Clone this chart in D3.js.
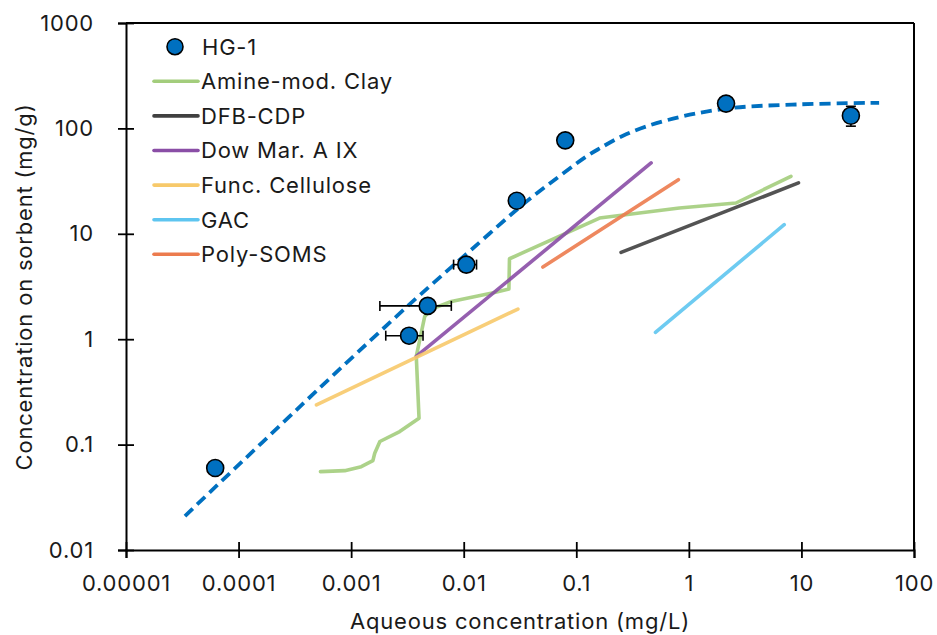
<!DOCTYPE html>
<html><head><meta charset="utf-8">
<script src="https://cdn.jsdelivr.net/npm/d3@7"></script>
<style>
body{margin:0;background:#fff;}
text{font-family:Inter,"Open Sans",sans-serif;fill:#1a1a1a;letter-spacing:0.8px;}
</style></head>
<body><svg id="c" width="937" height="635"></svg>
<script>
// ---- data ----
const xTickValues = [1e-5,1e-4,1e-3,1e-2,1e-1,1,10,100];
const xTickLabels = ["0.00001","0.0001","0.001","0.01","0.1","1","10","100"];
const yTickValues = [0.01,0.1,1,10,100,1000];
const yTickLabels = ["0.01","0.1","1","10","100","1000"];

// HG-1 measured points
const hgX = [6.2e-5, 0.00327, 0.00479, 0.01055, 0.0296, 0.0798, 2.14, 27.5];
const hgY = [0.060, 1.08, 2.07, 5.1, 20.6, 77, 172, 132];
const hgXErrLo = [null, 0.00203, 0.00180, 0.00813, 0.0272, null, null, null];
const hgXErrHi = [null, 0.00435, 0.00776, 0.01300, 0.0318, null, null, null];
const hgYErrLo = [null, null, null, null, null, null, null, 105];
const hgYErrHi = [null, null, null, null, null, null, null, 162];

// HG-1 fitted curve
const fitX = [3.34e-5, 5.26e-4, 0.00367, 0.01167, 0.0347, 0.0471, 0.1225, 0.161, 0.277, 0.628, 2.14, 9.57, 49.0];
const fitY = [0.021, 0.345, 2.37, 7.06, 19.6, 25.3, 54, 64.5, 88, 119, 154, 169, 175];

// comparison sorbents
const clayX = [5.34e-4, 8.77e-4, 1.23e-3, 1.56e-3, 1.62e-3, 1.80e-3, 2.70e-3, 4.01e-3, 3.79e-3, 4.50e-3, 5.15e-3, 7.76e-3, 0.0188, 0.0252, 0.0255, 0.161, 0.824, 2.62, 8.07];
const clayY = [0.0554, 0.0566, 0.0618, 0.0705, 0.0828, 0.107, 0.133, 0.178, 0.686, 1.64, 1.93, 2.28, 2.78, 2.99, 5.8, 14.1, 17.6, 19.6, 35.1];
const dfbX = [0.250, 9.42];
const dfbY = [6.66, 30.4];
const dowX = [3.79e-3, 0.462];
const dowY = [0.686, 47];
const celX = [4.92e-4, 0.0303];
const celY = [0.238, 1.93];
const gacX = [0.505, 7.03];
const gacY = [1.16, 12.2];
const somsX = [0.0505, 0.807];
const somsY = [4.84, 32.6];

const seriesNames = ["Amine-mod. Clay","DFB-CDP","Dow Mar. A IX","Func. Cellulose","GAC","Poly-SOMS"];
const seriesColors = ["#a3cd7c","#404040","#8a4ea6","#f7c96a","#5ec5f0","#ec7b4e"];
const seriesX = [clayX, dfbX, dowX, celX, gacX, somsX];
const seriesY = [clayY, dfbY, dowY, celY, gacY, somsY];

// ---- chart ----
const svg = d3.select("#c");
const L=126, R=914, T=23, B=550;
const x = d3.scaleLog().domain([1e-5,100]).range([L,R]);
const y = d3.scaleLog().domain([0.01,1000]).range([B,T]);
const FS = 22;

const xAxis = svg.append("g").attr("transform",`translate(0,${B})`)
  .call(d3.axisBottom(x).tickValues(xTickValues).tickFormat((d,i)=>xTickLabels[i]).tickSizeOuter(0).tickSize(8).tickPadding(14));
const yAxis = svg.append("g").attr("transform",`translate(${L},0)`)
  .call(d3.axisLeft(y).tickValues(yTickValues).tickFormat((d,i)=>yTickLabels[i]).tickSizeOuter(0).tickSize(8).tickPadding(24));
[xAxis,yAxis].forEach(g=>{
  g.select(".domain").attr("stroke","#000").attr("stroke-width",2);
  g.selectAll(".tick line").attr("stroke","#000").attr("stroke-width",1.8);
  g.selectAll(".tick text").attr("font-size",FS).attr("font-family","Inter, 'Open Sans', sans-serif").attr("fill","#1a1a1a");
});
xAxis.selectAll(".tick line").attr("y1",-8).attr("y2",8);
xAxis.selectAll(".tick text").attr("dy","0.85em");
yAxis.selectAll(".tick line").attr("x1",-8).attr("x2",8);
svg.append("line").attr("x1",L).attr("x2",R).attr("y1",T).attr("y2",T).attr("stroke","#000").attr("stroke-width",2);
svg.append("line").attr("x1",R).attr("x2",R).attr("y1",T).attr("y2",B).attr("stroke","#000").attr("stroke-width",2);

svg.append("text").attr("x",520).attr("y",629).attr("text-anchor","middle").attr("font-size",FS)
  .text("Aqueous concentration (mg/L)");
svg.append("text").attr("transform","translate(32,287) rotate(-90)").attr("text-anchor","middle").attr("font-size",FS)
  .text("Concentration on sorbent (mg/g)");

const line = d3.line().x(d=>x(d[0])).y(d=>y(d[1]));
seriesNames.forEach((n,i)=>{
  const pts = seriesX[i].map((v,j)=>[v, seriesY[i][j]]);
  svg.append("path").attr("d",line(pts)).attr("fill","none")
    .attr("stroke",seriesColors[i]).attr("stroke-width",3.6).attr("stroke-linecap","round").attr("stroke-linejoin","round")
    .attr("stroke-opacity",0.9);
});

const fitPts = fitX.map((v,j)=>[v, fitY[j]]);
svg.append("path").attr("d",d3.line().x(d=>x(d[0])).y(d=>y(d[1])).curve(d3.curveCatmullRom.alpha(0.5))(fitPts))
  .attr("fill","none").attr("stroke","#0070c0").attr("stroke-width",3.8).attr("stroke-dasharray","11,6");

const eb = svg.append("g").attr("stroke","#000").attr("stroke-width",1.6);
hgX.forEach((cx,i)=>{
  const cy = hgY[i];
  if(hgXErrLo[i]!=null){
    eb.append("line").attr("x1",x(hgXErrLo[i])).attr("x2",x(hgXErrHi[i])).attr("y1",y(cy)).attr("y2",y(cy));
    [hgXErrLo[i],hgXErrHi[i]].forEach(v=>eb.append("line").attr("x1",x(v)).attr("x2",x(v)).attr("y1",y(cy)-5).attr("y2",y(cy)+5));
  }
  if(hgYErrLo[i]!=null){
    eb.append("line").attr("x1",x(cx)).attr("x2",x(cx)).attr("y1",y(hgYErrLo[i])).attr("y2",y(hgYErrHi[i]));
    [hgYErrLo[i],hgYErrHi[i]].forEach(v=>eb.append("line").attr("x1",x(cx)-5).attr("x2",x(cx)+5).attr("y1",y(v)).attr("y2",y(v)));
  }
});
svg.append("g").selectAll("circle").data(hgX).join("circle")
  .attr("cx",d=>x(d)).attr("cy",(d,i)=>y(hgY[i])).attr("r",8.5)
  .attr("fill","#0070c0").attr("stroke","#000").attr("stroke-width",1.6);

const lg = svg.append("g");
const ly0 = 46.7, ldy = 34.6;
lg.append("circle").attr("cx",175).attr("cy",ly0).attr("r",8).attr("fill","#0070c0").attr("stroke","#000").attr("stroke-width",1.6);
lg.append("text").attr("x",202).attr("y",ly0).attr("dy","0.36em").attr("font-size",FS).text("HG-1");
seriesNames.forEach((n,i)=>{
  const yy = ly0 + ldy*(i+1);
  lg.append("line").attr("x1",154).attr("x2",198).attr("y1",yy).attr("y2",yy)
    .attr("stroke",seriesColors[i]).attr("stroke-width",3.6).attr("stroke-linecap","round");
  lg.append("text").attr("x",201).attr("y",yy).attr("dy","0.36em").attr("font-size",FS).text(n);
});
</script></body></html>
